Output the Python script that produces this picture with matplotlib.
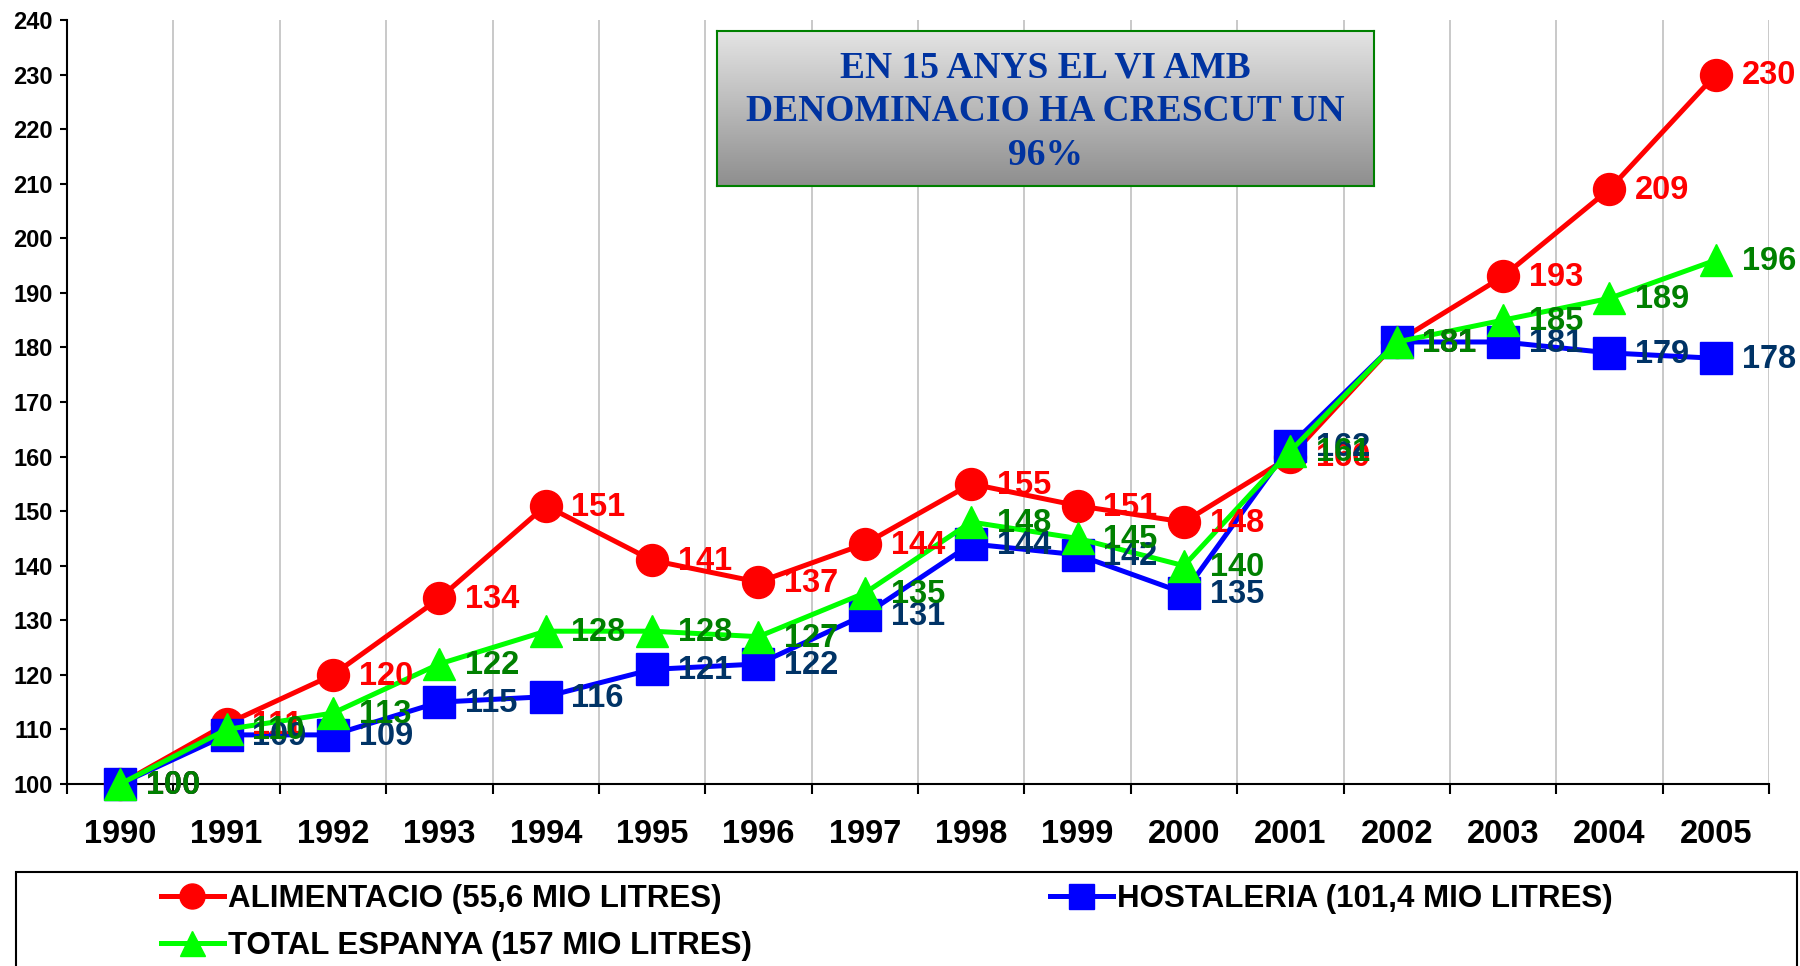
import matplotlib
matplotlib.use("Agg")
import matplotlib.pyplot as plt
import matplotlib.patches as mpatches
from matplotlib.colors import LinearSegmentedColormap
from matplotlib.lines import Line2D
import numpy as np

plt.rcParams["font.family"] = ["Liberation Sans", "DejaVu Sans"]

years = [1990, 1991, 1992, 1993, 1994, 1995, 1996, 1997,
         1998, 1999, 2000, 2001, 2002, 2003, 2004, 2005]
alimentacio = [100, 111, 120, 134, 151, 141, 137, 144, 155, 151, 148, 160, 181, 193, 209, 230]
hostaleria = [100, 109, 109, 115, 116, 121, 122, 131, 144, 142, 135, 162, 181, 181, 179, 178]
total = [100, 110, 113, 122, 128, 128, 127, 135, 148, 145, 140, 161, 181, 185, 189, 196]
yticks = list(range(100, 241, 10))

lab_alim = "ALIMENTACIO (55,6 MIO LITRES)"
lab_host = "HOSTALERIA (101,4 MIO LITRES)"
lab_total = "TOTAL ESPANYA (157 MIO LITRES)"
title_txt = "EN 15 ANYS EL VI AMB\nDENOMINACIO HA CRESCUT UN\n96%"

W, H = 1800, 966
fig = plt.figure(figsize=(18, 9.66), dpi=100)
ax = fig.add_axes([67 / W, 1 - 784 / H, (1769 - 67) / W, (784 - 20) / H])

x = np.arange(len(years)) + 0.5

series = [
    (alimentacio, "#FF0000", "o", "#FF0000", lab_alim),
    (hostaleria, "#0000FF", "s", "#003366", lab_host),
    (total, "#00FF00", "^", "#008000", lab_total),
]
z = 3
for vals, col, mk, tcol, lab in series:
    ax.plot(x, vals, color=col, lw=3.6, marker=mk, ms=23, mec=col, mfc=col,
            zorder=z, clip_on=False)
    z += 1

# data labels: red, green, blue (blue ends on top)
for idx in (0, 2, 1):
    vals, col, mk, tcol, lab = series[idx]
    for xi, v in zip(x, vals):
        ax.annotate(str(v), (xi, v), xytext=(18.5, -1), textcoords="offset points",
                    ha="left", va="center", fontsize=23.5, fontweight="bold",
                    color=tcol, zorder=10 + idx, annotation_clip=False)

ax.set_xlim(0, len(years))
ax.set_ylim(100, 240)
ax.set_yticks(yticks)
ax.set_yticklabels([str(v) for v in yticks], fontsize=17, fontweight="bold")
ax.set_xticks(x)
ax.set_xticklabels([str(y) for y in years], fontsize=23.5, fontweight="bold")
ax.set_xticks(np.arange(0, len(years) + 1), minor=True)
ax.tick_params(axis="x", which="major", length=0, pad=25)
ax.tick_params(axis="x", which="minor", length=7, width=1.5, direction="out")
ax.tick_params(axis="y", length=5, width=1.5, direction="out", pad=5)
ax.grid(True, axis="x", which="minor", color="#C0C0C0", lw=1.2)
ax.set_axisbelow(True)
for s in ("top", "right"):
    ax.spines[s].set_visible(False)
for s in ("left", "bottom"):
    ax.spines[s].set_linewidth(1.5)

# title box with grey gradient
tax = fig.add_axes([717 / W, 1 - 186 / H, (1374 - 717) / W, (186 - 31) / H])
grad = np.linspace(0, 1, 256).reshape(-1, 1)
cmap = LinearSegmentedColormap.from_list("g", ["#E4E4E4", "#8E8E8E"])
tax.imshow(grad, cmap=cmap, aspect="auto", extent=[0, 1, 0, 1], origin="upper")
tax.set_xticks([])
tax.set_yticks([])
for s in tax.spines.values():
    s.set_edgecolor("#008000")
    s.set_linewidth(1.5)
tax.text(0.5, 0.478, title_txt, ha="center", va="center", fontsize=27,
         fontweight="bold", color="#0033A0", linespacing=1.33,
         family=["Liberation Serif", "DejaVu Serif"], transform=tax.transAxes)

# legend
def proxy(col, mk):
    return Line2D([], [], color=col, lw=3.6, marker=mk, ms=18, mec=col, mfc=col)

leg_kw = dict(frameon=False, loc="upper left", borderpad=0, borderaxespad=0,
              handlelength=2.0, handletextpad=0.15, labelspacing=0.55,
              prop={"size": 22.5, "weight": "bold"})
fig.legend([proxy("#FF0000", "o"), proxy("#00FF00", "^")], [lab_alim, lab_total],
           bbox_to_anchor=(161 / W, 1 - 884 / H), **leg_kw)
fig.legend([proxy("#0000FF", "s")], [lab_host],
           bbox_to_anchor=(1050 / W, 1 - 884 / H), **leg_kw)
fig.patches.append(mpatches.Rectangle((16 / W, -0.1), (1797 - 16) / W, 0.1 + 1 - 872 / H,
                                      transform=fig.transFigure, fill=False,
                                      ec="black", lw=1.5))

fig.savefig("out.png", dpi=100)
